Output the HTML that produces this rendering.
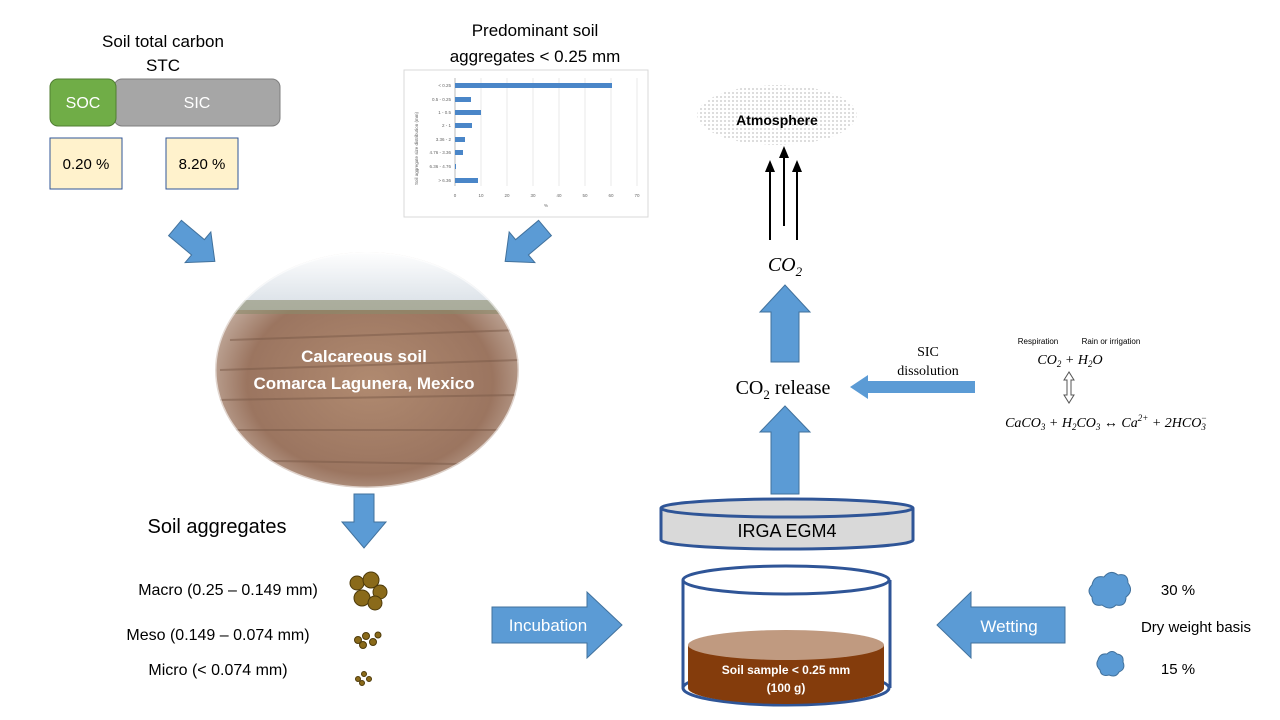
<!DOCTYPE html>
<html><head><style>
body{margin:0;width:1280px;height:720px;background:#fff;overflow:hidden}
svg{display:block}
text{font-family:"Liberation Sans",sans-serif}
.m{font-family:"Liberation Serif",serif;font-style:italic}
</style></head><body>
<svg width="1280" height="720" viewBox="0 0 1280 720">
<defs>
<radialGradient id="soil" cx="50%" cy="55%" r="55%">
<stop offset="0" stop-color="#b08a70"/><stop offset="0.7" stop-color="#9b7560"/><stop offset="1" stop-color="#c9b5a8"/>
</radialGradient>
<linearGradient id="sky" x1="0" y1="0" x2="0" y2="1">
<stop offset="0" stop-color="#fff"/><stop offset="1" stop-color="#d8dfe6"/>
</linearGradient>
<clipPath id="ov"><ellipse cx="367" cy="370" rx="152" ry="118"/></clipPath>
<pattern id="dots" width="4" height="4" patternUnits="userSpaceOnUse"><circle cx="1" cy="1" r="0.6" fill="#888"/></pattern>
</defs>

<text x="163" y="47" font-size="17" text-anchor="middle">Soil total carbon</text>
<text x="163" y="71" font-size="17" text-anchor="middle">STC</text>
<rect x="114" y="79" width="166" height="47" rx="8" fill="#a6a6a6" stroke="#7f7f7f"/>
<rect x="50" y="79" width="66" height="47" rx="8" fill="#70ad47" stroke="#507e32"/>
<text x="83" y="108" font-size="16" fill="#fff" text-anchor="middle">SOC</text>
<text x="197" y="108" font-size="16" fill="#fff" text-anchor="middle">SIC</text>
<rect x="50" y="138" width="72" height="51" fill="#fff2cc" stroke="#2f5597"/>
<rect x="166" y="138" width="72" height="51" fill="#fff2cc" stroke="#2f5597"/>
<text x="86" y="169" font-size="15" text-anchor="middle">0.20 %</text>
<text x="202" y="169" font-size="15" text-anchor="middle">8.20 %</text>

<text x="535" y="36" font-size="17" text-anchor="middle">Predominant soil</text>
<text x="535" y="62" font-size="17" text-anchor="middle">aggregates &lt; 0.25 mm</text>
<rect x="404" y="70" width="244" height="147" fill="#fff" stroke="#d9d9d9"/>
<g stroke="#e4e4e4" stroke-width="0.8">
<line x1="481" y1="78" x2="481" y2="186"/><line x1="507" y1="78" x2="507" y2="186"/><line x1="533" y1="78" x2="533" y2="186"/><line x1="559" y1="78" x2="559" y2="186"/><line x1="585" y1="78" x2="585" y2="186"/><line x1="611" y1="78" x2="611" y2="186"/><line x1="637" y1="78" x2="637" y2="186"/>
</g>
<line x1="455" y1="78" x2="455" y2="186" stroke="#bbb"/>
<g fill="#4a86c8">
<rect x="455" y="83" width="157" height="5"/><rect x="455" y="97" width="16" height="5"/><rect x="455" y="110" width="26" height="5"/><rect x="455" y="123" width="17" height="5"/><rect x="455" y="137" width="10" height="5"/><rect x="455" y="150" width="8" height="5"/><rect x="455" y="164" width="1" height="5"/><rect x="455" y="178" width="23" height="5"/>
</g>
<g font-size="4.5" fill="#666" text-anchor="end">
<text x="451" y="87">&lt; 0.25</text><text x="451" y="101">0.5 - 0.25</text><text x="451" y="114">1 - 0.5</text><text x="451" y="127">2 - 1</text><text x="451" y="141">3.36 - 2</text><text x="451" y="154">4.76 - 3.36</text><text x="451" y="168">6.36 - 4.76</text><text x="451" y="182">&gt; 6.36</text>
</g>
<g font-size="4.5" fill="#666" text-anchor="middle">
<text x="455" y="197">0</text><text x="481" y="197">10</text><text x="507" y="197">20</text><text x="533" y="197">30</text><text x="559" y="197">40</text><text x="585" y="197">50</text><text x="611" y="197">60</text><text x="637" y="197">70</text><text x="546" y="207">%</text>
</g>
<text x="0" y="0" font-size="4.5" fill="#666" transform="translate(418,185) rotate(-90)">Soil aggregate size distribution (mm)</text>

<polygon points="0,-10 30,-10 30,-20 52,0 30,20 30,10 0,10" fill="#5b9bd5" stroke="#41719c" transform="translate(175,228) rotate(40)"/>
<polygon points="0,-10 30,-10 30,-20 52,0 30,20 30,10 0,10" fill="#5b9bd5" stroke="#41719c" transform="translate(545,228) rotate(140)"/>

<g clip-path="url(#ov)">
<rect x="210" y="250" width="320" height="240" fill="url(#soil)"/>
<rect x="210" y="250" width="320" height="60" fill="url(#sky)"/>
<rect x="210" y="300" width="320" height="14" fill="#8a8a6a" opacity="0.6"/>
<g stroke="#7a5a48" stroke-width="2" opacity="0.5">
<line x1="230" y1="340" x2="520" y2="330"/><line x1="220" y1="370" x2="520" y2="360"/><line x1="215" y1="400" x2="520" y2="395"/><line x1="215" y1="430" x2="520" y2="430"/><line x1="215" y1="460" x2="520" y2="465"/>
</g>
</g>
<ellipse cx="367" cy="370" rx="152" ry="118" fill="none" stroke="#fff" stroke-width="3" opacity="0.6"/>
<text x="364" y="362" font-size="17" font-weight="bold" fill="#fff" text-anchor="middle">Calcareous soil</text>
<text x="364" y="389" font-size="17" font-weight="bold" fill="#fff" text-anchor="middle">Comarca Lagunera, Mexico</text>

<polygon points="354,494 374,494 374,522 386,522 364,548 342,522 354,522" fill="#5b9bd5" stroke="#41719c"/>

<text x="217" y="533" font-size="20" text-anchor="middle">Soil aggregates</text>
<text x="228" y="595" font-size="16" text-anchor="middle">Macro (0.25 – 0.149 mm)</text>
<text x="218" y="640" font-size="16" text-anchor="middle">Meso (0.149 – 0.074 mm)</text>
<text x="218" y="675" font-size="16" text-anchor="middle">Micro (&lt; 0.074 mm)</text>
<g fill="#8a6a1a" stroke="#4d3a0a">
<circle cx="357" cy="583" r="7"/><circle cx="371" cy="580" r="8"/><circle cx="380" cy="592" r="7"/><circle cx="362" cy="598" r="8"/><circle cx="375" cy="603" r="7"/>
<circle cx="358" cy="640" r="3.5"/><circle cx="366" cy="636" r="3.5"/><circle cx="373" cy="642" r="3.5"/><circle cx="363" cy="645" r="3.5"/><circle cx="378" cy="635" r="3"/>
<circle cx="358" cy="679" r="2.5"/><circle cx="364" cy="674" r="2.5"/><circle cx="369" cy="679" r="2.5"/><circle cx="362" cy="683" r="2.5"/>
</g>

<polygon points="492,607 587,607 587,592 622,625 587,658 587,643 492,643" fill="#5b9bd5" stroke="#41719c"/>
<text x="548" y="631" font-size="17" fill="#fff" text-anchor="middle">Incubation</text>

<polygon points="1065,607 971,607 971,592 937,625 971,658 971,643 1065,643" fill="#5b9bd5" stroke="#41719c"/>
<text x="1009" y="632" font-size="17" fill="#fff" text-anchor="middle">Wetting</text>

<line x1="683" y1="580" x2="683" y2="688" stroke="#2f5597" stroke-width="3"/>
<line x1="890" y1="580" x2="890" y2="688" stroke="#2f5597" stroke-width="3"/>
<ellipse cx="786" cy="688" rx="103" ry="17" fill="#fff" stroke="#2f5597" stroke-width="3"/>
<path d="M688,645 L688,688 A98,16 0 0 0 884,688 L884,645 Z" fill="#843c0c"/>
<ellipse cx="786" cy="645" rx="98" ry="15" fill="#c09a80"/>
<ellipse cx="786" cy="580" rx="103" ry="14" fill="none" stroke="#2f5597" stroke-width="3"/>
<text x="786" y="674" font-size="12" font-weight="bold" fill="#fff" text-anchor="middle">Soil sample &lt; 0.25 mm</text>
<text x="786" y="692" font-size="12" font-weight="bold" fill="#fff" text-anchor="middle">(100 g)</text>

<path d="M661,508 L661,540 A126,9 0 0 0 913,540 L913,508" fill="#d9d9d9" stroke="#2f5597" stroke-width="3"/>
<ellipse cx="787" cy="508" rx="126" ry="9" fill="#d9d9d9" stroke="#2f5597" stroke-width="3"/>
<text x="787" y="537" font-size="18" text-anchor="middle">IRGA EGM4</text>

<polygon points="771,494 771,432 760,432 785,406 810,432 799,432 799,494" fill="#5b9bd5" stroke="#41719c"/>
<polygon points="771,362 771,312 760,312 785,285 810,312 799,312 799,362" fill="#5b9bd5" stroke="#41719c"/>
<text x="783" y="394" font-size="20" text-anchor="middle" style="font-family:'Liberation Serif',serif">CO<tspan font-size="13" dy="5">2</tspan><tspan dy="-5"> release</tspan></text>
<text x="785" y="271" font-size="20" class="m" text-anchor="middle">CO<tspan font-size="13" dy="5">2</tspan></text>

<g stroke="#000" stroke-width="2">
<line x1="770" y1="240" x2="770" y2="170"/><line x1="784" y1="226" x2="784" y2="156"/><line x1="797" y1="240" x2="797" y2="170"/>
</g>
<polygon points="765,172 775,172 770,160" fill="#000"/><polygon points="779,158 789,158 784,146" fill="#000"/><polygon points="792,172 802,172 797,160" fill="#000"/>

<ellipse cx="777" cy="115" rx="80" ry="30" fill="url(#dots)"/>
<text x="777" y="125" font-size="14" font-weight="bold" text-anchor="middle">Atmosphere</text>

<polygon points="975,381 868,381 868,375 850,387 868,399 868,393 975,393" fill="#5b9bd5"/>
<text x="928" y="356" font-size="14" text-anchor="middle" style="font-family:'Liberation Serif',serif">SIC</text>
<text x="928" y="375" font-size="14" text-anchor="middle" style="font-family:'Liberation Serif',serif">dissolution</text>
<text x="1038" y="344" font-size="8" text-anchor="middle">Respiration</text>
<text x="1111" y="344" font-size="8" text-anchor="middle">Rain or irrigation</text>
<text x="1070" y="364" font-size="14" class="m" text-anchor="middle">CO<tspan font-size="9" dy="3">2</tspan><tspan dy="-3"> + H</tspan><tspan font-size="9" dy="3">2</tspan><tspan dy="-3">O</tspan></text>
<polygon points="1069,372 1064,380 1067,380 1067,395 1064,395 1069,403 1074,395 1071,395 1071,380 1074,380" fill="#fff" stroke="#555"/>
<text x="1106" y="427" font-size="14" class="m" text-anchor="middle">CaCO<tspan font-size="9" dy="3">3</tspan><tspan dy="-3"> + H</tspan><tspan font-size="9" dy="3">2</tspan><tspan dy="-3">CO</tspan><tspan font-size="9" dy="3">3</tspan><tspan dy="-3"> ↔ Ca</tspan><tspan font-size="9" dy="-6">2+</tspan><tspan dy="6"> + 2HCO</tspan><tspan font-size="9" dy="3">3</tspan><tspan font-size="9" dx="-5" dy="-9">−</tspan></text>

<g fill="#5b9bd5" stroke="#41719c">
<path d="M1092,585 q2,-10 12,-8 q6,-8 14,-2 q10,-2 10,8 q6,8 -2,14 q0,10 -10,8 q-6,6 -14,0 q-10,2 -10,-8 q-6,-6 0,-12z"/>
<path d="M1098,660 q2,-7 9,-6 q5,-5 10,0 q7,1 6,8 q3,7 -4,10 q-3,6 -10,3 q-8,2 -9,-5 q-5,-5 -2,-10z"/>
</g>
<text x="1178" y="595" font-size="15" text-anchor="middle">30 %</text>
<text x="1196" y="632" font-size="15" text-anchor="middle">Dry weight basis</text>
<text x="1178" y="674" font-size="15" text-anchor="middle">15 %</text>
</svg>
</body></html>
